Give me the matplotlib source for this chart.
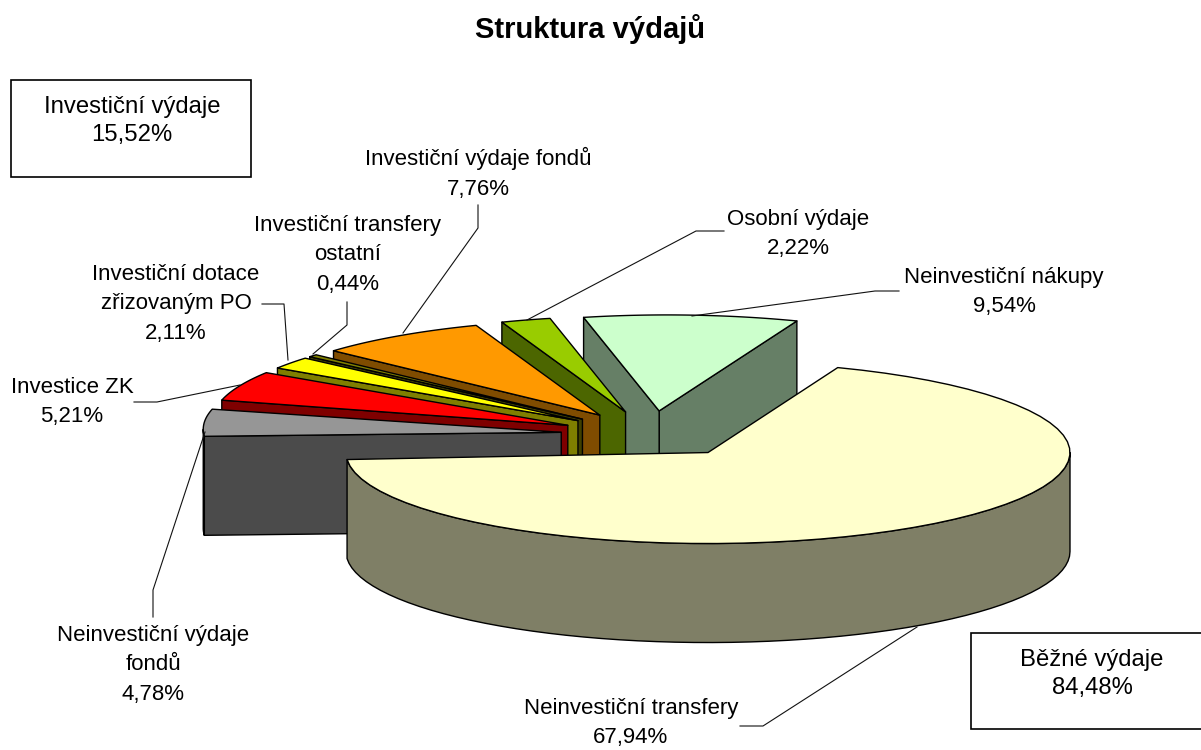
import numpy as np
import matplotlib
matplotlib.use("Agg")
import matplotlib.pyplot as plt
from matplotlib.patches import Polygon, Rectangle

plt.rcParams["font.family"] = ["Liberation Sans", "DejaVu Sans"]

# clockwise from the first slice
categories = [
    "Neinvestiční transfery",
    "Neinvestiční výdaje\nfondů",
    "Investice ZK",
    "Investiční dotace\nzřizovaným PO",
    "Investiční transfery\nostatní",
    "Investiční výdaje fondů",
    "Osobní výdaje",
    "Neinvestiční nákupy",
]
shares = [67.94, 4.78, 5.21, 2.11, 0.44, 7.76, 2.22, 9.54]
group_names = ["Investiční výdaje", "Běžné výdaje"]
group_shares = [15.52, 84.48]
title = "Struktura výdajů"

top_colors = ["#FFFFCC", "#969696", "#FF0000", "#FFFF00", "#808000", "#FF9900", "#99CC00", "#CCFFCC"]
side_colors = ["#7F7F66", "#4B4B4B", "#7F0000", "#7F7F00", "#404000", "#7F4C00", "#4C6600", "#667F66"]

# layout in pixels
cx, cy = 653, 434
rx, ry = 362, 91
explode = 92
depth = 99
start_angle = 69.0
# back slices sit a bit off their apex in the original
rim_shifts = [(0, 0), (4, -3), (7, -5), (8, -5), (8, -5), (8, -5), (8, -5), (8, -5)]
label_pos = [(631, 723), (153, 665), (72, 402), (176, 304), (348, 255), (478, 173), (798, 234), (1004, 292)]
leaders = [
    [(740, 726), (763, 726), (917, 627)],
    [(153, 617), (153, 590), (205, 432)],
    [(134, 402), (157, 402), (240, 385)],
    [(262, 304), (284, 304), (288, 360)],
    [(347, 302), (347, 325), (313, 354)],
    [(478, 205), (478, 228), (403, 333)],
    [(724, 231), (696, 231), (527, 320)],
    [(899, 291), (875, 291), (692, 316)],
]

fig = plt.figure(figsize=(12.01, 7.5), dpi=100)
ax = fig.add_axes([0, 0, 1, 1])
ax.set_xlim(0, 1201)
ax.set_ylim(750, 0)
ax.axis("off")


def rim(x0, y0, a, b, shift, n=60):
    t = np.radians(np.linspace(a, b, n))
    return np.column_stack([x0 + shift[0] + rx * np.cos(t), y0 + shift[1] - ry * np.sin(t)])


def draw_slice(x0, y0, a1, a2, top, side, shift):
    # a1 < a2 in degrees, counter clockwise
    kw = dict(edgecolor="black", linewidth=1.0, joinstyle="round")
    for a, visible in ((a1, np.cos(np.radians(a1)) > 0), (a2, np.cos(np.radians(a2)) < 0)):
        if visible:
            p = rim(x0, y0, a, a, shift, 1)[0]
            ax.add_patch(Polygon([(x0, y0), p, p + (0, depth), (x0, y0 + depth)], facecolor=side, **kw))
    # outer wall, only the part that faces the viewer
    lo, hi = a1, a2
    while lo < 0:
        lo, hi = lo + 360, hi + 360
    lo2, hi2 = max(lo, 180), min(hi, 360)
    if hi2 > lo2:
        arc = rim(x0, y0, lo2, hi2, shift)
        ax.add_patch(Polygon(np.vstack([arc, arc[::-1] + (0, depth)]), facecolor=side, **kw))
    pts = np.vstack([[(x0, y0)], rim(x0, y0, a1, a2, shift)])
    ax.add_patch(Polygon(pts, facecolor=top, **kw))


# angles going clockwise
sweeps = np.array(shares) / sum(shares) * 360
ends = start_angle - np.cumsum(sweeps)
starts = ends + sweeps
mids = (starts + ends) / 2
order = np.argsort(-np.sin(np.radians(mids)))
for i in order:
    m = np.radians(mids[i])
    x0 = cx + explode * np.cos(m)
    y0 = cy - explode * ry / rx * np.sin(m)
    draw_slice(x0, y0, ends[i], starts[i], top_colors[i], side_colors[i], rim_shifts[i])

for i, name in enumerate(categories):
    ax.text(*label_pos[i], f"{name}\n{shares[i]:.2f}%".replace(".", ","),
            ha="center", va="center", fontsize=16, linespacing=1.56, color="black")
    xs, ys = zip(*leaders[i])
    ax.plot(xs, ys, color="#111111", lw=0.8)

# group boxes, the second one runs off the right edge
boxes = [(11, 80, 240, 97), (971, 633, 240, 96)]
box_text_x = [132, 1092]
for (x, y, w, h), tx, name, val in zip(boxes, box_text_x, group_names, group_shares):
    ax.add_patch(Rectangle((x, y), w, h, facecolor="white", edgecolor="black", linewidth=1.2))
    ax.text(tx, y + 41, f"{name}\n{val:.2f}%".replace(".", ","), ha="center", va="center",
            fontsize=17.2, linespacing=1.345)

ax.text(590, 38, title, ha="center", va="baseline", fontsize=21, fontweight="bold")

fig.savefig("out.png", dpi=100)
